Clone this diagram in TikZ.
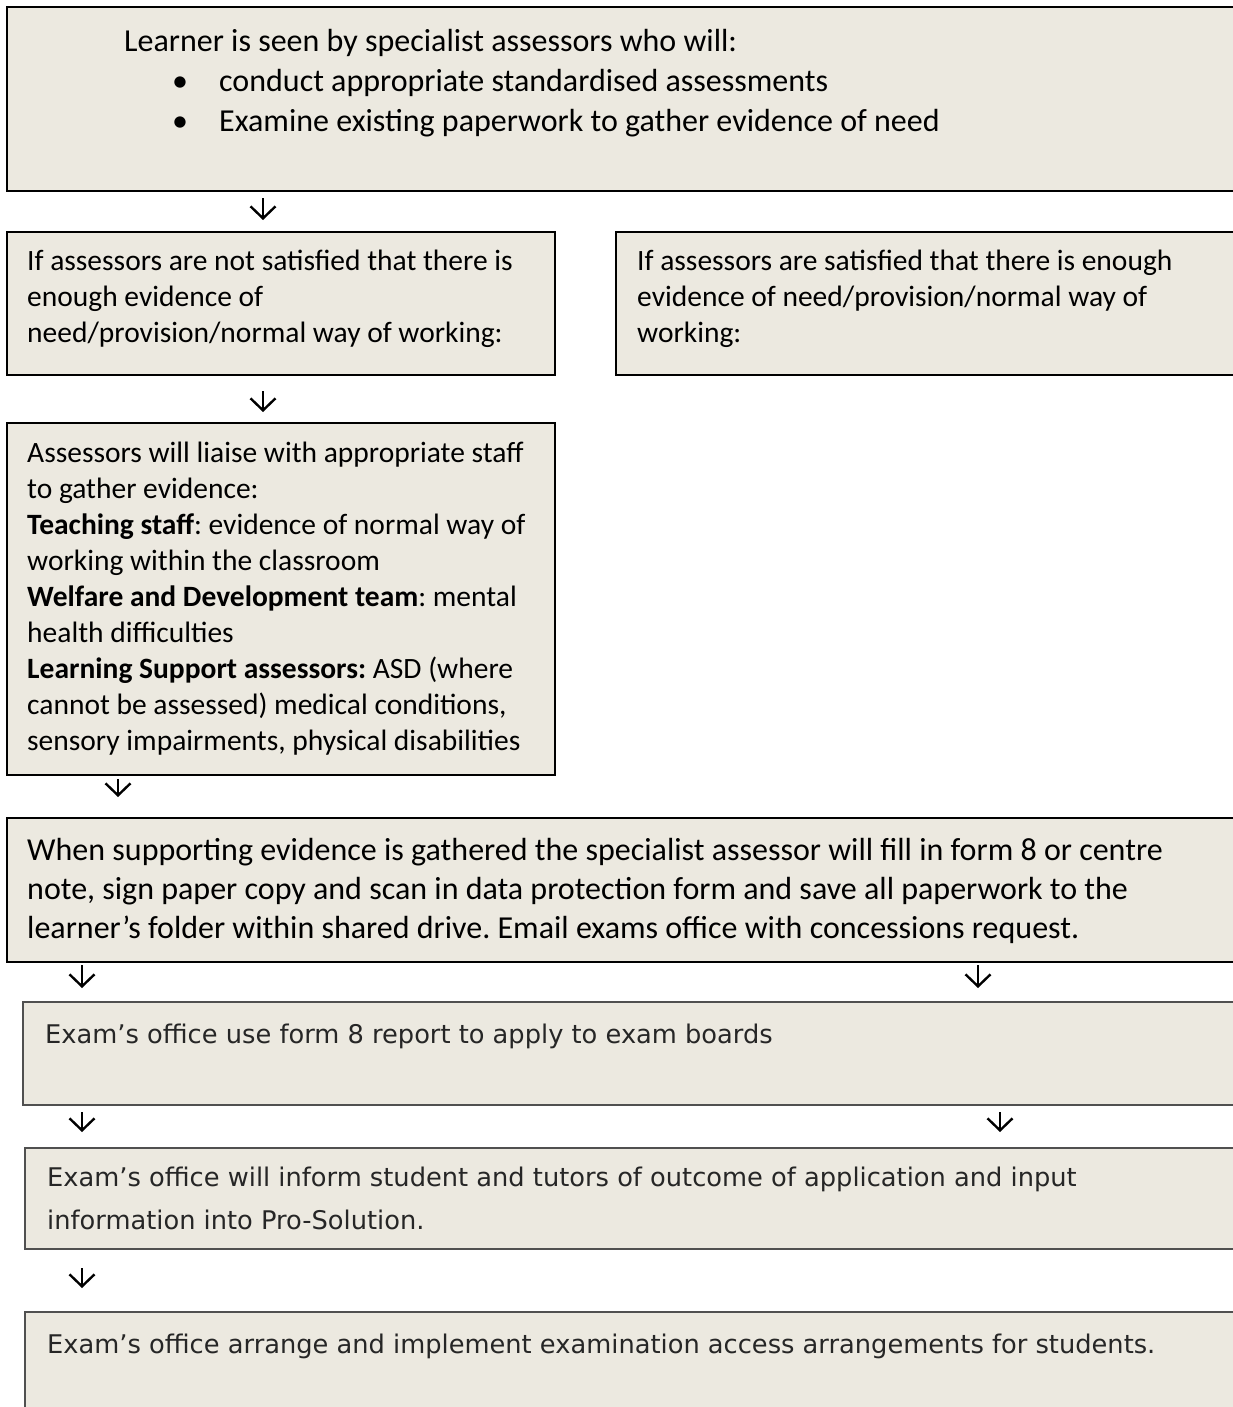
\documentclass[tikz,border=0pt]{standalone}
\usepackage{fontspec}
\setmainfont{Carlito}
\newfontfamily\examfont{DejaVu Sans}
\usepackage{tikz}
\usetikzlibrary{arrows.meta,calc}
\definecolor{boxfill}{RGB}{236,233,224}
\definecolor{greyline}{RGB}{80,80,80}
\frenchspacing

\begin{document}
\begin{tikzpicture}[x=1pt,y=1pt,yscale=-1,xscale=1,
    box/.style={draw=black,line width=2pt,fill=boxfill,anchor=north west,outer sep=0pt,inner sep=0pt},
    greybox/.style={box,draw=greyline},
    txt/.style={anchor=base west,inner sep=0pt,align=left,font=\fontsize{29.5}{36}\selectfont},
    bigtxt/.style={txt,font=\fontsize{32}{39}\selectfont},
    examtxt/.style={txt,font=\examfont\fontsize{25.7}{43}\selectfont,text=black!85},
    arr/.style={line width=2.4pt,-{Straight Barb[length=12pt,width=25pt,line width=2.4pt]}}]
    \path[use as bounding box] (0,0) rectangle (1233,1407);
    \clip (0,0) rectangle (1233,1407);

    %Shape: Rectangle [id:learner]
    \node[box,minimum width=1243pt,minimum height=184pt] (seen) at (7,7) {};
    %Shape: Rectangle [id:notsatisfied]
    \node[box,minimum width=548pt,minimum height=143pt] (notok) at (7,232) {};
    %Shape: Rectangle [id:satisfied]
    \node[box,minimum width=634pt,minimum height=143pt] (ok) at (616,232) {};
    %Shape: Rectangle [id:liaise]
    \node[box,minimum width=548pt,minimum height=352pt] (liaise) at (7,423) {};
    %Shape: Rectangle [id:form8]
    \node[box,minimum width=1243pt,minimum height=144pt] (form) at (7,818) {};
    %Shape: Rectangle [id:apply]
    \node[greybox,minimum width=1227pt,minimum height=103pt] (apply) at (23,1002) {};
    %Shape: Rectangle [id:inform]
    \node[greybox,minimum width=1225pt,minimum height=101pt] (inform) at (25,1148) {};
    %Shape: Rectangle [id:arrange]
    \node[greybox,minimum width=1225pt,minimum height=150pt] (arrange) at (25,1312) {};

    % Text Node (base = last line)
    \node[bigtxt,font=\fontsize{32}{40}\selectfont] (tseen) at (124,132) {Learner is seen by specialist assessors who will:\\
      \hspace*{48pt}\makebox[47pt][l]{\textbullet}conduct appropriate standardised assessments\\
      \hspace*{48pt}\makebox[47pt][l]{\textbullet}Examine existing paperwork to gather evidence of need};
    % Text Node
    \node[txt] (tnotok) at (27,342) {If assessors are not satisfied that there is\\ enough evidence of\\ need/provision/normal way of working:};
    % Text Node
    \node[txt] (tok) at (637,342) {If assessors are satisfied that there is enough\\ evidence of need/provision/normal way of\\ working:};
    % Text Node
    \node[txt] (tliaise) at (27,750) {Assessors will liaise with appropriate staff\\
      to gather evidence:\\
      \textbf{Teaching staff}: evidence of normal way of\\
      working within the classroom\\
      \textbf{Welfare and Development team}: mental\\
      health difficulties\\
      \textbf{Learning Support assessors:} ASD (where\\
      cannot be assessed) medical conditions,\\
      sensory impairments, physical disabilities};
    % Text Node
    \node[bigtxt] (tform) at (27,938) {When supporting evidence is gathered the specialist assessor will fill in form 8 or centre\\
      note, sign paper copy and scan in data protection form and save all paperwork to the\\
      learner’s folder within shared drive. Email exams office with concessions request.};
    % Text Node
    \node[examtxt] (tapply) at (45,1043) {Exam’s office use form 8 report to apply to exam boards};
    % Text Node
    \node[examtxt] (tinform) at (47,1229) {Exam’s office will inform student and tutors of outcome of application and input\\ information into Pro-Solution.};
    % Text Node
    \node[examtxt] (tarrange) at (47,1353) {Exam’s office arrange and implement examination access arrangements for students.};

    %Arrows
    \draw[arr] ($(seen.south west)+(256,7)$) -- ($(notok.north west)+(256,-12)$);
    \draw[arr] ($(notok.south west)+(256,16)$) -- ($(liaise.north west)+(256,-11)$);
    \draw[arr] ($(liaise.south west)+(111,4)$) -- ($(form.north west)+(111,-21)$);
    \draw[arr] ($(form.south west)+(75,3)$) -- ($(apply.north west)+(59,-14)$);
    \draw[arr] ($(form.south west)+(971,3)$) -- ($(apply.north west)+(955,-14)$);
    \draw[arr] ($(apply.south west)+(59,7)$) -- ($(inform.north west)+(57,-16)$);
    \draw[arr] ($(apply.south west)+(977,7)$) -- ($(inform.north west)+(975,-16)$);
    \draw[arr] ($(inform.south west)+(57,19)$) -- ($(arrange.north west)+(57,-24)$);
\end{tikzpicture}
\end{document}
